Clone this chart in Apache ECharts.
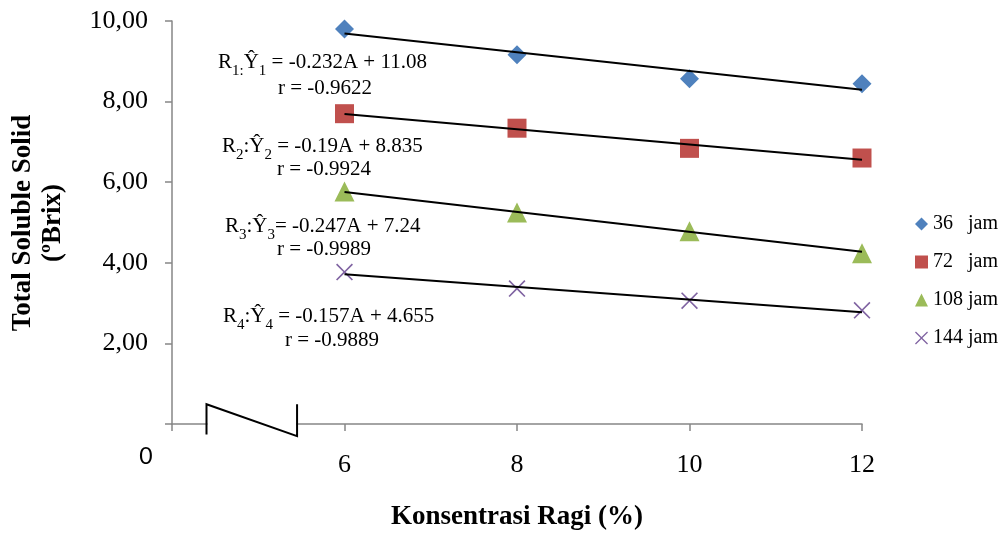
<!DOCTYPE html>
<html>
<head>
<meta charset="utf-8">
<script src="https://cdn.jsdelivr.net/npm/echarts@6/dist/echarts.min.js"></script>
<style>
  html, body { margin: 0; padding: 0; background: #fff; }
  #main { width: 1004px; height: 536px; }
</style>
</head>
<body>
<div id="main"></div>
<script>
// konsentrasi ragi (%) and total soluble solid (Brix) per fermentation time
var ragi = [6, 8, 10, 12];
var tss36 = [9.80, 9.16, 8.57, 8.44];
var tss72 = [7.70, 7.34, 6.84, 6.60];
var tss108 = [5.77, 5.25, 4.78, 4.24];
var tss144 = [3.77, 3.36, 3.06, 2.82];

// regression line end points (A = 6 and A = 12)
var trend36 = [9.688, 8.296];
var trend72 = [7.695, 6.555];
var trend108 = [5.758, 4.276];
var trend144 = [3.713, 2.771];

var seriesNames = ['36   jam', '72   jam', '108 jam', '144 jam'];
var equations = [
  ['R{s|1:}Ŷ{s|1} = -0.232A + 11.08', 'r = -0.9622'],
  ['R{s|2}:Ŷ{s|2} = -0.19A + 8.835', 'r = -0.9924'],
  ['R{s|3}:Ŷ{s|3}= -0.247A + 7.24', 'r = -0.9989'],
  ['R{s|4}:Ŷ{s|4} = -0.157A + 4.655', 'r = -0.9889']
];

var serif = '"Liberation Serif", "Times New Roman", serif';
var crossPath = 'path://M0,7L7,0L50,43L93,0L100,7L57,50L100,93L93,100L50,57L7,100L0,93L43,50Z';

function pairs(xs, ys) {
  return xs.map(function (x, i) { return [x, ys[i]]; });
}

var chartDom = document.getElementById('main');
var myChart = echarts.init(chartDom, null, { renderer: 'canvas' });

function scatter(name, vals, symbol, size, color) {
  return {
    name: name,
    type: 'scatter',
    data: pairs(ragi, vals),
    symbol: symbol,
    symbolSize: size,
    itemStyle: { color: color, opacity: 1 },
    z: 2
  };
}
function trend(vals) {
  return {
    type: 'line',
    data: [[ragi[0], vals[0]], [ragi[ragi.length - 1], vals[1]]],
    symbol: 'none',
    silent: true,
    lineStyle: { color: '#000', width: 2 },
    z: 3
  };
}

var option = {
  animation: false,
  backgroundColor: '#fff',
  grid: { left: 172, right: 142, top: 21, bottom: 109, containLabel: false },
  legend: {
    data: seriesNames,
    orient: 'vertical',
    left: 915,
    top: 214,
    padding: 0,
    itemWidth: 13,
    itemHeight: 13,
    itemGap: 18,
    selectedMode: false,
    textStyle: { fontFamily: serif, fontSize: 20, color: '#000' }
  },
  xAxis: {
    type: 'value',
    min: 4,
    max: 12,
    interval: 2,
    name: 'Konsentrasi Ragi (%)',
    nameLocation: 'middle',
    nameGap: 80,
    nameTextStyle: { fontFamily: serif, fontSize: 27, fontWeight: 'bold', color: '#000' },
    axisLine: { lineStyle: { color: '#868686', width: 1.5 } },
    axisTick: { length: 7, lineStyle: { color: '#868686', width: 1.5 } },
    axisLabel: {
      margin: 28,
      fontFamily: serif,
      fontSize: 26,
      color: '#000',
      formatter: function (v) { return v === 4 ? '' : String(v); }
    },
    splitLine: { show: false }
  },
  yAxis: {
    type: 'value',
    min: 0,
    max: 10,
    interval: 2,
    axisLine: { show: true, lineStyle: { color: '#868686', width: 1.5 } },
    axisTick: { show: true, length: 7, lineStyle: { color: '#868686', width: 1.5 } },
    axisLabel: {
      margin: 24,
      fontFamily: serif,
      fontSize: 26,
      color: '#000',
      formatter: function (v) { return v === 0 ? '' : v.toFixed(2).replace('.', ','); }
    },
    splitLine: { show: false }
  },
  series: [
    scatter(seriesNames[0], tss36, 'diamond', 19, '#4F81BD'),
    scatter(seriesNames[1], tss72, 'rect', 19, '#C0504D'),
    scatter(seriesNames[2], tss108, 'triangle', 20, '#9BBB59'),
    scatter(seriesNames[3], tss144, crossPath, 17, '#8064A2'),
    trend(trend36),
    trend(trend72),
    trend(trend108),
    trend(trend144)
  ]
};

myChart.setOption(option);

// axis break, "0" label, y axis title and regression texts
function px(x, y) { return myChart.convertToPixel({ gridIndex: 0 }, [x, y]); }
var a = px(4.40, 0.49), aB = px(4.40, -0.26);
var b = px(5.45, 0.49), bB = px(5.45, -0.30);
var o = px(4, 0);

var eqPos = [
  [[218, 62], [278, 88]],
  [[222, 146], [277, 169]],
  [[225, 226], [277, 249]],
  [[223, 316], [285, 340]]
];

var graphics = [
  { type: 'rect', shape: { x: a[0] + 1, y: o[1] - 3, width: b[0] - a[0] - 2, height: 6 },
    style: { fill: '#fff' }, z: 50 },
  { type: 'polyline', shape: { points: [aB, a, bB, b] },
    style: { stroke: '#000', lineWidth: 2, fill: null }, z: 51 },
  { type: 'text', x: o[0] - 26, y: o[1] + 33,
    style: { text: '0', font: '23px Lato, sans-serif', fill: '#000', align: 'center', verticalAlign: 'middle' }, z: 51 },
  { type: 'text', x: 38, y: 223, rotation: Math.PI / 2,
    style: { text: 'Total Soluble Solid\n(ºBrix)', font: 'bold 27px ' + serif, lineHeight: 30,
      fill: '#000', align: 'center', verticalAlign: 'middle' }, z: 51 }
];
equations.forEach(function (eq, i) {
  graphics.push({ type: 'text', x: eqPos[i][0][0], y: eqPos[i][0][1],
    style: { text: eq[0], font: '21px ' + serif, fill: '#000', align: 'left', verticalAlign: 'middle',
      rich: { s: { fontSize: 15, fontFamily: serif, verticalAlign: 'bottom', lineHeight: 14, padding: [0, 0, -6, 0] } } }, z: 40 });
  graphics.push({ type: 'text', x: eqPos[i][1][0], y: eqPos[i][1][1],
    style: { text: eq[1], font: '21px ' + serif, fill: '#000', align: 'left', verticalAlign: 'middle' }, z: 40 });
});
myChart.setOption({ graphic: graphics });
</script>
</body>
</html>
